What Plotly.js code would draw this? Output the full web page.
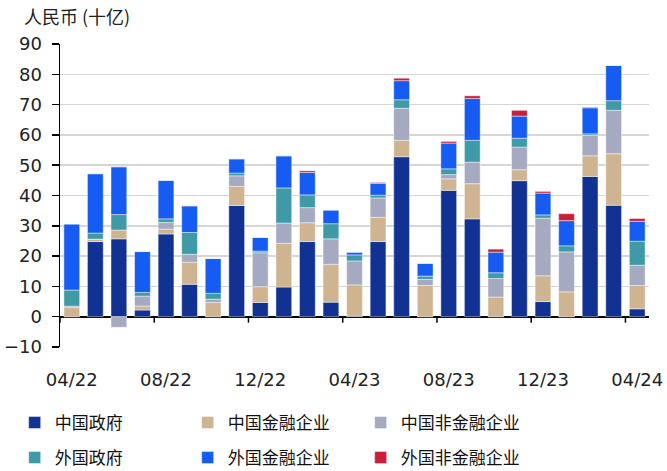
<!DOCTYPE html>
<html>
<head>
<meta charset="utf-8">
<script src="https://cdn.plot.ly/plotly-3.0.1.min.js"></script>
<style>html,body{margin:0;padding:0;background:#fff;}#chart{width:667px;height:471px;}</style>
</head>
<body>
<div id="chart"></div>
<script>
const months = ['04/22','05/22','06/22','07/22','08/22','09/22','10/22','11/22','12/22','01/23','02/23','03/23','04/23','05/23','06/23','07/23','08/23','09/23','10/23','11/23','12/23','01/24','02/24','03/24','04/24'];
const tickLabels = ['04/22','08/22','12/22','04/23','08/23','12/23','04/24'];

const cnGov    = [0, 24.8, 25.7, 2.2, 27.3, 10.7, 0, 36.7, 4.7, 9.8, 24.8, 4.8, 0.2, 24.8, 52.8, 0, 41.7, 32.3, 0, 44.9, 5.0, 0, 46.3, 36.8, 2.6];
const cnFin    = [3.0, 0.8, 2.9, 1.3, 1.6, 7.3, 4.7, 6.3, 5.2, 14.4, 6.2, 12.5, 10.3, 8.0, 5.4, 10.3, 3.8, 11.6, 6.5, 3.6, 8.5, 8.2, 6.8, 17.0, 7.7];
const cnNonFin = [0.5, 0, -3.5, 3.3, 2.2, 2.6, 1.1, 3.5, 11.2, 6.7, 5.0, 8.4, 7.9, 6.4, 10.6, 2.0, 1.4, 7.1, 6.1, 7.5, 19.0, 13.2, 6.7, 14.3, 6.7];
const fGov     = [5.3, 2.0, 5.1, 1.2, 1.2, 7.2, 1.9, 0.9, 0.55, 11.6, 4.2, 5.0, 2.0, 0.9, 2.8, 1.1, 1.9, 7.2, 1.9, 2.9, 1.1, 2.0, 0.55, 3.2, 7.9];
const fFin     = [21.8, 19.6, 15.8, 13.5, 12.7, 8.8, 11.5, 4.7, 4.5, 10.6, 7.4, 4.5, 0.9, 3.9, 6.3, 4.2, 8.5, 13.8, 6.8, 7.3, 7.2, 8.3, 8.6, 11.6, 6.6];
const fNonFin  = [0, 0, 0, 0, 0, 0, 0, 0, 0, 0, 0.55, 0, 0, 0.3, 0.8, 0, 0.55, 0.9, 1.0, 1.9, 0.55, 2.3, 0.2, 0, 0.9];

const seriesNames = ['中国政府','中国金融企业','中国非金融企业','外国政府','外国金融企业','外国非金融企业'];
const seriesData = [cnGov, cnFin, cnNonFin, fGov, fFin, fNonFin];
const colors = ['#123293','#CFB491','#A6AAC0','#3F9AA8','#165CF3','#C91F3C'];

const traces = seriesData.map((vals, i) => ({
  type: 'bar',
  name: seriesNames[i],
  x: months,
  y: vals,
  width: 0.67,
  marker: {color: colors[i], line: {color: 'rgba(255,255,255,0.55)', width: 0.8}},
  legend: i < 3 ? 'legend' : 'legend2',
  hoverinfo: 'skip'
}));

const tickShapes = tickLabels.map(t => {
  const idx = months.indexOf(t);
  return {
    type: 'line', xref: 'x', yref: 'y',
    x0: idx - 0.5, x1: idx - 0.5,
    ysizemode: 'pixel', yanchor: 0, y0: 0, y1: -6,
    line: {color: '#000', width: 1.5}
  };
});

const legendCommon = {
  orientation: 'h',
  xref: 'container', yref: 'container',
  x: 0.022, xanchor: 'left', yanchor: 'middle',
  entrywidth: 128, entrywidthmode: 'pixels',
  font: {family: 'Noto Sans CJK SC', size: 17, color: '#111'},
  bgcolor: 'rgba(0,0,0,0)', traceorder: 'normal'
};

const layout = {
  width: 667, height: 471,
  margin: {l: 60, r: 18, t: 44, b: 124},
  paper_bgcolor: '#fff', plot_bgcolor: '#fff',
  barmode: 'relative',
  bargap: 0.33,
  font: {family: 'DejaVu Sans', size: 18, color: '#222'},
  title: {
    text: '人民币 (十亿)',
    font: {family: 'Noto Sans CJK SC', size: 18, color: '#222'},
    xref: 'container', yref: 'container',
    x: 0.036, xanchor: 'left', y: 0.963, yanchor: 'middle'
  },
  xaxis: {
    type: 'category',
    range: [-0.5, months.length - 0.5],
    tickvals: tickLabels, ticktext: tickLabels,
    ticks: '', showline: false, showgrid: false, zeroline: false,
    ticklabelstandoff: 20,
    tickfont: {family: 'DejaVu Sans', size: 18, color: '#222'}
  },
  yaxis: {
    range: [-10, 90], dtick: 10, tick0: 0,
    showgrid: true, gridcolor: '#d6d6d6', gridwidth: 1.5,
    zeroline: true, zerolinecolor: '#000', zerolinewidth: 2,
    showline: true, linecolor: '#000', linewidth: 1.5,
    ticks: 'outside', ticklen: 7, tickcolor: '#000', tickwidth: 1.5,
    ticklabelstandoff: 6,
    tickfont: {family: 'DejaVu Sans', size: 18, color: '#222'}
  },
  shapes: tickShapes,
  legend: Object.assign({}, legendCommon, {y: 1 - 423/471}),
  legend2: Object.assign({}, legendCommon, {y: 1 - 458/471}),
  showlegend: true
};

Plotly.newPlot('chart', traces, layout, {displayModeBar: false, staticPlot: true});
</script>
</body>
</html>
